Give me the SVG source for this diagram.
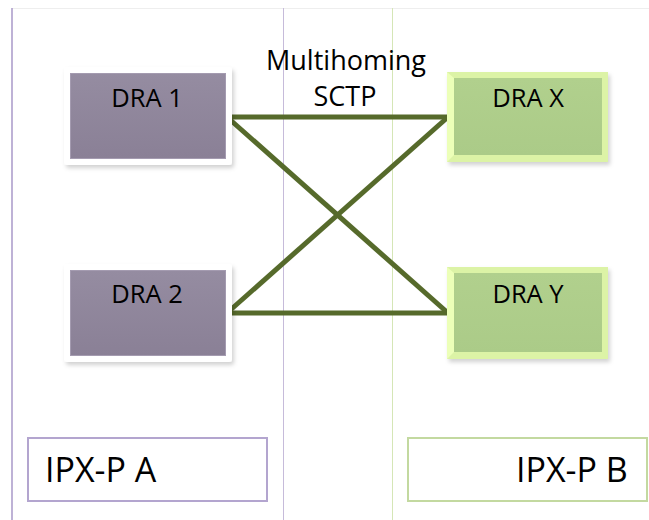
<svg xmlns="http://www.w3.org/2000/svg" width="649" height="520" viewBox="0 0 649 520">
<defs>
<linearGradient id="gPurple" x1="0" y1="0" x2="0" y2="1">
<stop offset="0" stop-color="#958ca1"/>
<stop offset="1" stop-color="#8a8096"/>
</linearGradient>
<linearGradient id="gGreen" x1="0" y1="0" x2="0" y2="1">
<stop offset="0" stop-color="#b1d08d"/>
<stop offset="1" stop-color="#abcb88"/>
</linearGradient>
<filter id="sh" x="-10%" y="-10%" width="125%" height="130%">
<feDropShadow dx="2" dy="3" stdDeviation="2" flood-color="#000" flood-opacity="0.18"/>
</filter>
</defs>
<style>
.lbl{font-family:"Open Sans","Liberation Sans",sans-serif;fill:#000;text-anchor:middle}
.dra{font-size:25.5px}
.ipx{font-size:34px;text-anchor:start}
.mh{font-size:27px}
.conn{stroke:#566a2b;stroke-width:5;fill:none;stroke-linecap:butt}
.purpleOuter{fill:#ffffff}
.purpleInner{fill:url(#gPurple);stroke:#a49bb0;stroke-width:1}
.greenOuter{fill:#dcf3a6}
.greenInner{fill:url(#gGreen)}
</style>
<rect width="649" height="520" fill="#ffffff"/>
<!-- partition lines -->
<line x1="12" y1="8.5" x2="649" y2="8.5" stroke="#eeeeee" stroke-width="1"/>
<line x1="12" y1="8" x2="12" y2="520" stroke="#a999c9" stroke-width="1.5"/>
<line x1="283.5" y1="8" x2="283.5" y2="520" stroke="#c6bbda" stroke-width="1"/>
<line x1="392.5" y1="8" x2="392.5" y2="520" stroke="#d5e6b6" stroke-width="1"/>

<g id="connectors">
<line class="conn" x1="227" y1="117" x2="448" y2="117"/>
<line class="conn" x1="227" y1="313" x2="448" y2="313"/>
<line class="conn" x1="227" y1="117" x2="448" y2="313"/>
<line class="conn" x1="227" y1="313" x2="448" y2="117"/>
</g>

<g id="label-multihoming">
<text class="lbl mh" x="346" y="70">Multihoming</text>
<text class="lbl mh" x="345" y="106">SCTP</text>
</g>

<g id="dra1">
<rect class="purpleOuter" x="64" y="67" width="168" height="98" rx="3" filter="url(#sh)"/>
<rect class="purpleInner" x="70.5" y="73.5" width="155" height="85"/>
<text class="lbl dra" x="147" y="107">DRA 1</text>
</g>

<g id="dra2">
<rect class="purpleOuter" x="64" y="264" width="168" height="98" rx="3" filter="url(#sh)"/>
<rect class="purpleInner" x="70.5" y="270.5" width="155" height="85"/>
<text class="lbl dra" x="147" y="303">DRA 2</text>
</g>

<g id="draX">
<rect class="greenOuter" x="447" y="72" width="161" height="90" filter="url(#sh)"/>
<polygon points="447,72 454,78 454,155 447,162" fill="#ecffb8"/>
<rect class="greenInner" x="454" y="78" width="148" height="77"/>
<text class="lbl dra" x="528" y="107">DRA X</text>
</g>

<g id="draY">
<rect class="greenOuter" x="447" y="267" width="161" height="92" filter="url(#sh)"/>
<polygon points="447,267 454,273 454,352 447,359" fill="#ecffb8"/>
<rect class="greenInner" x="454" y="273" width="148" height="79"/>
<text class="lbl dra" x="528" y="303">DRA Y</text>
</g>

<g id="ipxA">
<rect x="28" y="438" width="239" height="63" fill="#ffffff" stroke="#b3a5cf" stroke-width="2"/>
<text class="lbl ipx" x="45" y="482">IPX-P A</text>
</g>

<g id="ipxB">
<rect x="408" y="438" width="239" height="63" fill="#ffffff" stroke="#c3d9a0" stroke-width="2"/>
<text class="lbl ipx" x="516" y="482">IPX-P B</text>
</g>
</svg>
